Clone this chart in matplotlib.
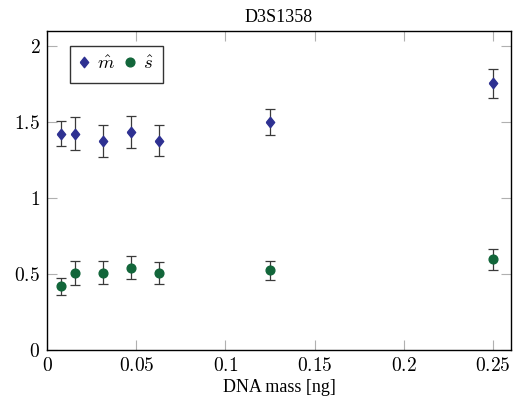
import matplotlib
matplotlib.use('Agg')
import matplotlib.pyplot as plt
import numpy as np

# DNA mass for each dilution step [ng]
mass = [0.0078125, 0.015625, 0.03125, 0.046875, 0.0625, 0.125, 0.25]

# estimated m (diamonds) with error
m_hat = [1.424, 1.424, 1.376, 1.434, 1.376, 1.500, 1.755]
m_err = [0.080, 0.110, 0.105, 0.108, 0.103, 0.087, 0.096]

# estimated s (circles) with error
s_hat = [0.419, 0.505, 0.508, 0.543, 0.508, 0.524, 0.598]
s_err = [0.055, 0.078, 0.075, 0.078, 0.073, 0.061, 0.069]

xticks = [0, 0.05, 0.1, 0.15, 0.2, 0.25]
yticks = [0, 0.5, 1, 1.5, 2]

plt.rcParams['mathtext.fontset'] = 'cm'
plt.rcParams['font.family'] = 'Liberation Serif'

blue = '#2e3192'
green = '#12663a'
barcol = '#3a3a3a'

# diamond a bit taller than wide
diamond = [(-0.8, 0), (0, 1), (0.8, 0), (0, -1), (-0.8, 0)]

fig = plt.figure(figsize=(5.19, 4.03), dpi=100)
ax = fig.add_axes([0.091, 0.131, 0.893, 0.793])

ax.errorbar(mass, m_hat, yerr=m_err, fmt='none', ecolor=barcol, elinewidth=0.9,
            capsize=3.8, capthick=0.9, zorder=2)
ax.errorbar(mass, s_hat, yerr=s_err, fmt='none', ecolor=barcol, elinewidth=0.9,
            capsize=3.8, capthick=0.9, zorder=2)
ax.plot(mass, m_hat, linestyle='none', marker=diamond, markersize=7.5,
        color=blue, label=r'$\hat{m}$', zorder=3)
ax.plot(mass, s_hat, linestyle='none', marker='o', markersize=6.3,
        color=green, label=r'$\hat{s}$', zorder=3)

ax.set_xlim(0, 0.26)
ax.set_ylim(0, 2.1)
ax.set_xticks(xticks)
ax.set_yticks(yticks)
ax.set_xticklabels(['$%g$' % t for t in xticks], fontsize=14)
ax.set_yticklabels(['$%g$' % t for t in yticks], fontsize=14)
ax.tick_params(direction='in', length=7.5, width=0.8, color='#b0b0b0',
               top=True, right=True, pad=5)
for sp in ax.spines.values():
    sp.set_linewidth(1.0)

ax.set_title('D3S1358', fontsize=13, pad=6)
ax.set_xlabel('DNA mass [ng]', fontsize=13, labelpad=3)

leg = ax.legend(loc='upper left', bbox_to_anchor=(0.049, 0.953), ncol=2,
                fontsize=13.5, handlelength=0.5, handletextpad=0.4,
                columnspacing=0.6, borderpad=0.52, fancybox=False,
                framealpha=1, edgecolor='#333333', borderaxespad=0)
leg.get_frame().set_linewidth(1.0)

fig.savefig('out.png', dpi=100)
